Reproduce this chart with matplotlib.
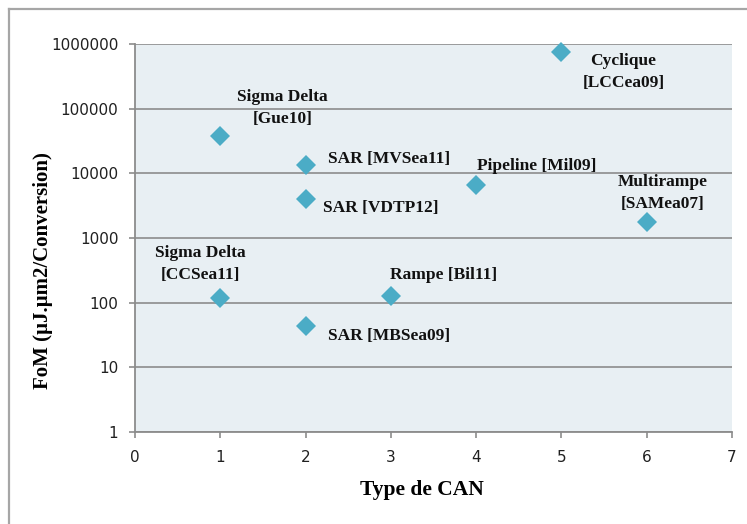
"""FoM des CAN selon leur type"""

import matplotlib
matplotlib.use('Agg')
import matplotlib.pyplot as plt
from matplotlib.lines import Line2D

# Type de CAN (abscisse) et FoM lue pour chaque publication
can_type = [1, 2, 2, 5, 4, 6, 1, 3, 2]
fom = [38000, 13500, 4000, 750000, 6600, 1780, 118, 125, 44]
labels = ['Sigma Delta\n[Gue10]', 'SAR [MVSea11]', 'SAR [VDTP12]',
          'Cyclique\n[LCCea09]', 'Pipeline [Mil09]', 'Multirampe\n[SAMea07]',
          'Sigma Delta\n[CCSea11]', 'Rampe [Bil11]', 'SAR [MBSea09]']
y_ticks = [1, 10, 100, 1000, 10000, 100000, 1000000]

# Décalage des étiquettes (px) et alignement horizontal
OFFSETS = [(62, 28, 'center'), (22, 6, 'left'), (17, -9, 'left'),
           (62, -20, 'center'), (1, 19, 'left'), (16, 29, 'center'),
           (-20, 34, 'center'), (-1, 21, 'left'), (22, -10, 'left')]

W, H = 747, 524
GRID = '#8c8c8c'
SERIF = 'Liberation Serif'

fig = plt.figure(figsize=(W / 100, H / 100), dpi=100)
fig.patch.set_facecolor('white')

# cadre extérieur
fig.add_artist(Line2D([9 / W, 1.01], [1 - 9 / H, 1 - 9 / H], color='#a6a6a6', lw=1.6,
                      transform=fig.transFigure))
fig.add_artist(Line2D([9 / W, 9 / W], [1 - 9 / H, -0.01], color='#a6a6a6', lw=1.6,
                      transform=fig.transFigure))

left, top, right, bottom = 135, 44, 732, 432
ax = fig.add_axes([left / W, 1 - bottom / H, (right - left) / W, (bottom - top) / H])
ax.set_facecolor('#e8eff3')
ax.set_yscale('log')
ax.set_xlim(0, 7)
ax.set_ylim(1, 1000000)
ax.set_yticks(y_ticks)
ax.set_yticklabels([str(v) for v in y_ticks])
ax.minorticks_off()
ax.set_xticks(range(8))

for s in ('top', 'right'):
    ax.spines[s].set_visible(False)
for s in ('left', 'bottom'):
    ax.spines[s].set_color(GRID)
    ax.spines[s].set_linewidth(1.3)
ax.grid(True, axis='y', color=GRID, lw=1.2)
ax.set_axisbelow(True)
ax.tick_params(axis='both', direction='out', length=4, width=1.2, color=GRID,
               labelsize=11, labelcolor='#202020')
ax.tick_params(axis='x', pad=9)
ax.tick_params(axis='y', pad=8)

ax.plot(can_type, fom, linestyle='none', marker='D', markersize=10,
        color='#4bacc6', markeredgewidth=0, clip_on=False, zorder=3)

for x, y, text, (dx, dy, ha) in zip(can_type, fom, labels, OFFSETS):
    ax.annotate(text, (x, y), xytext=(dx * 0.72, dy * 0.72), textcoords='offset points',
                ha=ha, va='center', fontsize=12.5, fontweight='bold', family=SERIF,
                linespacing=1.45, color='#111111')

ax.set_xlabel('Type de CAN', fontsize=15.5, fontweight='bold', family=SERIF, va='center')
ax.set_ylabel('FoM (µJ.µm2/Conversion)', fontsize=15, fontweight='bold', family=SERIF,
              va='center')
ax.xaxis.set_label_coords(0.481, -0.149)
ax.yaxis.set_label_coords(-0.154, 0.415)

fig.savefig('out.png', dpi=100)
